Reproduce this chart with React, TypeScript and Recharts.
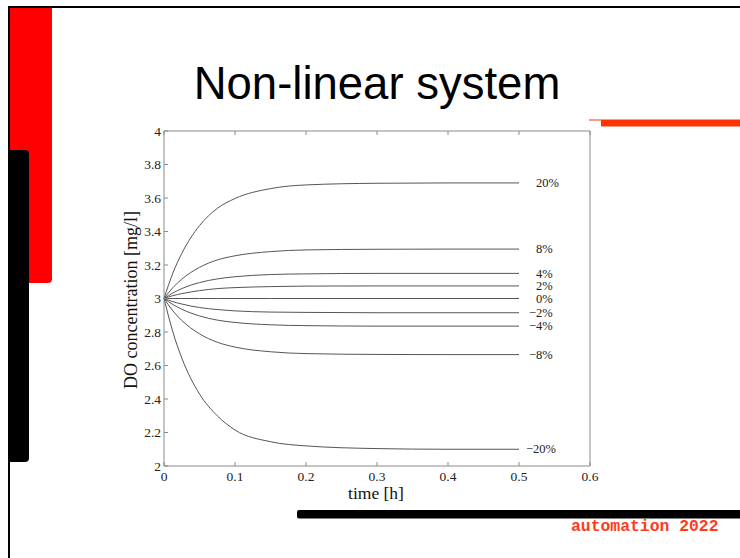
import React from 'react'
import { LineChart, Line, XAxis, YAxis } from 'recharts'

// time [h]
const times = [0, 0.0125, 0.025, 0.05, 0.075, 0.1, 0.15, 0.2, 0.3, 0.4, 0.5]

// DO concentration [mg/l] for each load change
const up20 = [3, 3.152, 3.269, 3.435, 3.538, 3.597, 3.656, 3.678, 3.688, 3.69, 3.69]
const up8 = [3, 3.065, 3.115, 3.186, 3.23, 3.255, 3.28, 3.29, 3.294, 3.295, 3.295]
const up4 = [3, 3.033, 3.059, 3.095, 3.117, 3.13, 3.143, 3.147, 3.15, 3.15, 3.15]
const up2 = [3, 3.017, 3.029, 3.047, 3.059, 3.065, 3.071, 3.074, 3.075, 3.075, 3.075]
const zero = [3, 3, 3, 3, 3, 3, 3, 3, 3, 3, 3]
const down2 = [3, 2.981, 2.967, 2.946, 2.934, 2.926, 2.919, 2.917, 2.915, 2.915, 2.915]
const down4 = [3, 2.964, 2.936, 2.896, 2.871, 2.857, 2.843, 2.838, 2.835, 2.835, 2.835]
const down8 = [3, 2.926, 2.869, 2.789, 2.739, 2.71, 2.682, 2.671, 2.666, 2.665, 2.665]
const down20 = [3, 2.8, 2.645, 2.43, 2.3, 2.215, 2.145, 2.12, 2.104, 2.1, 2.1]

const seriesKeys = ['up20', 'up8', 'up4', 'up2', 'zero', 'down2', 'down4', 'down8', 'down20']
const seriesValues = [up20, up8, up4, up2, zero, down2, down4, down8, down20]
const seriesLabels = ['20%', '8%', '4%', '2%', '0%', '\u22122%', '\u22124%', '\u22128%', '\u221220%']
const labelShift = [17, 17, 17, 17, 17, 10, 10, 10, 7]

const xTicks = [0, 0.1, 0.2, 0.3, 0.4, 0.5, 0.6]
const yTicks = [2, 2.2, 2.4, 2.6, 2.8, 3, 3.2, 3.4, 3.6, 3.8, 4]

const data = times.map((t, i) => {
  const row: any = { t }
  seriesKeys.forEach((k, j) => (row[k] = seriesValues[j][i]))
  return row
})

const serif = '"Liberation Serif", "DejaVu Serif", serif'
const axisColor = '#8a8a8a'
const tickStyle = { fontSize: 13.5, fill: '#222', fontFamily: serif }

const endLabel = (text: string, dx: number) => (p: any) =>
  p.index === times.length - 1 ? (
    <text x={p.x + dx} y={p.y} dy="0.33em" fontSize={12.5} fill="#222" fontFamily={serif}>
      {text}
    </text>
  ) : null

function Slide() {
  return (
    <svg width={740} height={558} style={{ position: 'absolute', left: 0, top: 0 }}>
      <rect x={8} y={6} width={732} height={2} fill="#000" />
      <rect x={8} y={6} width={2} height={552} fill="#000" />
      <path d="M10 8 H52 V279 Q52 283 48 283 H10 Z" fill="#ff0000" />
      <path d="M8 150 H25 Q29 150 29 154 V458 Q29 462 25 462 H8 Z" fill="#000" />
      <rect x={589} y={119.5} width={12} height={1} fill="#ff3300" />
      <rect x={601} y={119.5} width={139} height={7} fill="#ff3300" />
      <path d="M299 510 H740 V518.5 H299 Q297 518.5 297 516.5 V512 Q297 510 299 510 Z" fill="#000" />
      <text x={377} y={99} textAnchor="middle" fontSize={45.5} fontFamily='"Liberation Sans", Arial, sans-serif' fill="#000">
        Non-linear system
      </text>
      <text x={571} y={531} fontSize={16.4} fontWeight="bold" fontFamily='"Liberation Mono", "DejaVu Sans Mono", monospace' fill="#ff3b1a">
        automation 2022
      </text>
      <text x={137} y={300} textAnchor="middle" transform="rotate(-90 137 300)" fontSize={18} fontFamily={serif} fill="#111">
        DO concentration [mg/l]
      </text>
      <text x={376} y={499} textAnchor="middle" fontSize={17.5} fontFamily={serif} fill="#111">
        time [h]
      </text>
    </svg>
  )
}

export default function App() {
  return (
    <div style={{ position: 'absolute', left: 0, top: 0, width: 740, height: 558, background: '#fff' }}>
      <Slide />
      <div style={{ position: 'absolute', left: 0, top: 0 }}>
        <LineChart width={740} height={558} data={data} margin={{ top: 130, right: 149, bottom: 62, left: 124 }}>
          <XAxis
            dataKey="t"
            type="number"
            domain={[0, 0.6]}
            ticks={xTicks}
            height={30}
            stroke={axisColor}
            tickSize={-4}
            tickMargin={9}
            tick={tickStyle}
            interval={0}
          />
          <XAxis
            xAxisId="top"
            orientation="top"
            dataKey="t"
            type="number"
            domain={[0, 0.6]}
            ticks={xTicks}
            height={1}
            stroke={axisColor}
            tickSize={-4}
            tickFormatter={() => ''}
            interval={0}
          />
          <YAxis
            type="number"
            domain={[2, 4]}
            ticks={yTicks}
            width={40}
            stroke={axisColor}
            tickSize={-4}
            tickMargin={7}
            tick={tickStyle}
            interval={0}
          />
          <YAxis
            yAxisId="right"
            orientation="right"
            type="number"
            domain={[2, 4]}
            ticks={yTicks}
            width={1}
            stroke={axisColor}
            tickSize={-4}
            tickFormatter={() => ''}
            interval={0}
          />
          {seriesKeys.map((k, j) => (
            <Line
              key={k}
              dataKey={k}
              type="monotone"
              stroke="#555"
              strokeWidth={1}
              dot={false}
              isAnimationActive={false}
              label={endLabel(seriesLabels[j], labelShift[j])}
            />
          ))}
        </LineChart>
      </div>
    </div>
  )
}
